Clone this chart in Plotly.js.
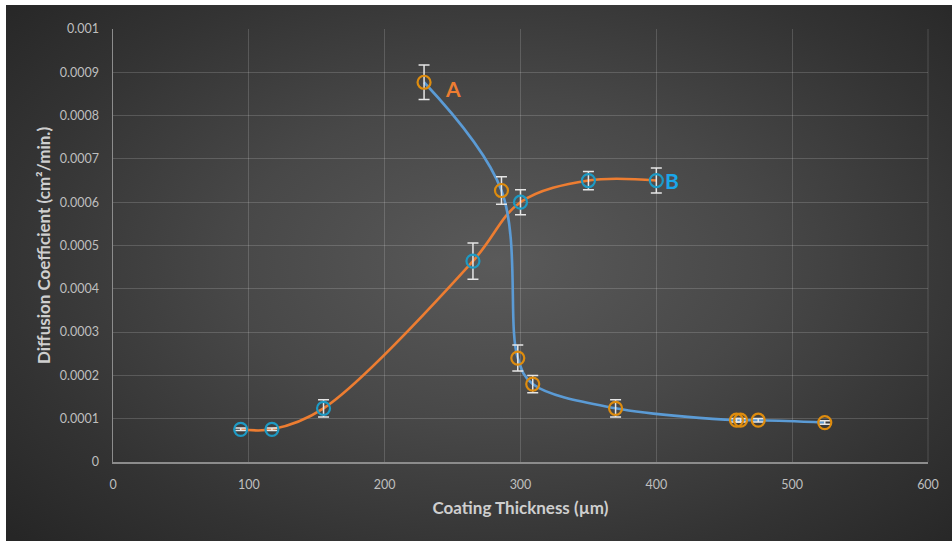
<!DOCTYPE html>
<html>
<head>
<meta charset="utf-8">
<script src="https://cdn.plot.ly/plotly-3.0.1.min.js"></script>
<style>
  html, body { margin: 0; padding: 0; background: #ffffff; width: 952px; height: 541px; overflow: hidden; }
  #bg { position: absolute; left: 6px; top: 5px; width: 946px; height: 536px;
        background: radial-gradient(ellipse 70% 75% at 52% 48%, #5a5a5a 0%, #484848 40%, #333333 75%, #262626 100%); }
  #chart { position: absolute; left: 0; top: 0; width: 952px; height: 541px; }
</style>
</head>
<body>
<div id="bg"></div>
<div id="chart"></div>
<script>
// Series A: blue smoothed line, orange open markers
const seriesA_x = [229, 286, 298, 309, 370, 459, 462, 475, 524];
const seriesA_y = [0.000877, 0.000627, 0.00024, 0.00018, 0.000124, 0.0000965, 0.0000965, 0.0000965, 0.000091];
const seriesA_err = [0.00004, 0.000032, 0.00003, 0.00002, 0.00002, 0.000004, 0.000004, 0.000004, 0.000004];

// Series B: orange smoothed line, teal open markers
const seriesB_x = [94, 117, 155, 265, 300, 350, 400];
const seriesB_y = [0.0000755, 0.0000755, 0.000124, 0.000464, 0.0006, 0.00065, 0.00065];
const seriesB_err = [0.000003, 0.000003, 0.00002, 0.000042, 0.000029, 0.000021, 0.000029];

// Axis ticks
const xTicks = [0, 100, 200, 300, 400, 500, 600];
const yTickVals = [0, 0.0001, 0.0002, 0.0003, 0.0004, 0.0005, 0.0006, 0.0007, 0.0008, 0.0009, 0.001];
const yTickText = ["0", "0.0001", "0.0002", "0.0003", "0.0004", "0.0005", "0.0006", "0.0007", "0.0008", "0.0009", "0.001"];

// Series labels
const labelText = ["A", "B"];
const labelX = [250, 411.5];
const labelY = [0.000862, 0.000649];

const lineBlue = "#5B9BD5";
const lineOrange = "#ED7D31";
const markOrange = "#DE8C0E";
const markTeal = "#1E9AC4";
const errColor = "#E6E6E6";

const traces = [
  { x: seriesB_x, y: seriesB_y, mode: "lines", type: "scatter",
    line: { color: lineOrange, width: 2.6, shape: "spline", smoothing: 1 }, hoverinfo: "skip" },
  { x: seriesA_x, y: seriesA_y, mode: "lines", type: "scatter",
    line: { color: lineBlue, width: 2.6, shape: "spline", smoothing: 1 }, hoverinfo: "skip" },
  { x: seriesA_x, y: seriesA_y, mode: "markers", type: "scatter",
    marker: { symbol: "circle-open", size: 13, color: markOrange, line: { width: 2.2, color: markOrange } },
    error_y: { type: "data", array: seriesA_err, visible: true, color: errColor, thickness: 1.5, width: 5.5 } },
  { x: seriesB_x, y: seriesB_y, mode: "markers", type: "scatter",
    marker: { symbol: "circle-open", size: 13, color: markTeal, line: { width: 2.2, color: markTeal } },
    error_y: { type: "data", array: seriesB_err, visible: true, color: errColor, thickness: 1.5, width: 5.5 } }
];

const annotations = labelText.map((t, i) => ({
  x: labelX[i], y: labelY[i], xref: "x", yref: "y", text: "<b>" + t + "</b>",
  showarrow: false, font: { family: "Lato, 'Open Sans', sans-serif", size: 21, color: i === 0 ? lineOrange : "#1AA6EA" }
}));

const layout = {
  width: 952, height: 541,
  margin: { l: 113, r: 24, t: 29, b: 79, pad: 0 },
  paper_bgcolor: "rgba(0,0,0,0)",
  plot_bgcolor: "rgba(0,0,0,0)",
  showlegend: false,
  font: { family: "Lato, 'Open Sans', sans-serif", color: "#BFBFBF", size: 12 },
  xaxis: {
    range: [0, 600], tickvals: xTicks, ticks: "", ticklabelstandoff: 10,
    showgrid: true, gridcolor: "rgba(255,255,255,0.16)", gridwidth: 1,
    showline: true, linecolor: "#8C8C8C", linewidth: 1.5, zeroline: false,
    tickfont: { size: 12.5, color: "#BFBFBF" },
    title: { text: "<b>Coating Thickness (µm)</b>", font: { size: 17, color: "#CFCFCF" }, standoff: 11 }
  },
  yaxis: {
    range: [0, 0.001], tickvals: yTickVals, ticktext: yTickText, ticks: "", ticklabelstandoff: 10,
    showgrid: true, gridcolor: "rgba(255,255,255,0.16)", gridwidth: 1,
    showline: true, linecolor: "#8C8C8C", linewidth: 1.5, zeroline: false,
    tickfont: { size: 12.5, color: "#BFBFBF" },
    title: { text: "<b>Diffusion Coefficient (cm²/min.)</b>", font: { size: 17, color: "#CFCFCF" }, standoff: 5 }
  },
  shapes: [
    { type: "line", xref: "paper", yref: "paper", x0: 1, x1: 1, y0: 0, y1: 1,
      line: { color: "rgba(255,255,255,0.16)", width: 1 } }
  ],
  annotations: annotations
};

Plotly.newPlot("chart", traces, layout, { staticPlot: true, displayModeBar: false });
</script>
</body>
</html>
